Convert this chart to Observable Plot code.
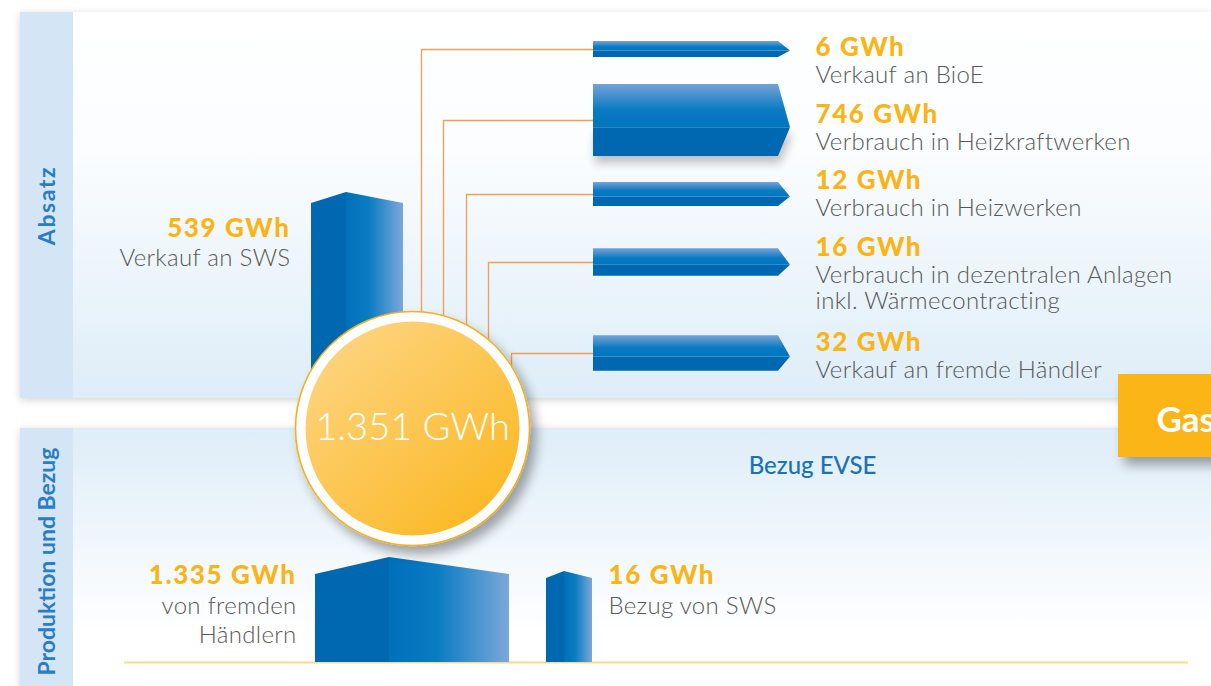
<!DOCTYPE html>
<html><head><meta charset="utf-8">
<script src="https://cdn.jsdelivr.net/npm/d3@7"></script>
<script src="https://cdn.jsdelivr.net/npm/@observablehq/plot@0.6"></script>
<style>
html,body{margin:0;padding:0;background:#fff;}
#chart{width:1211px;height:686px;overflow:hidden;}
</style></head><body><div id="chart"></div>
<script>
// ---------------- data ----------------
const totalValue = 1351;
const unit = "GWh";
const salesLabels = ["Verkauf an BioE", "Verbrauch in Heizkraftwerken", "Verbrauch in Heizwerken", "Verbrauch in dezentralen Anlagen\ninkl. Wärmecontracting", "Verkauf an fremde Händler"];
const salesValues = [6, 746, 12, 16, 32];
const swsSaleLabel = "Verkauf an SWS";
const swsSaleValue = 539;
const supplyLabels = ["von fremden\nHändlern", "Bezug von SWS"];
const supplyValues = [1335, 16];
const panelTitles = ["Absatz", "Produktion und Bezug"];
const supplySubtitle = "Bezug EVSE";
const tabLabel = "Gas";

// ---------------- layout & style ----------------
const L = {
  W: 1211, H: 686,
  top: {x1: 20, x2: 1211, y1: 12, y2: 398},
  bot: {x1: 20, x2: 1211, y1: 428, y2: 700},
  stripX2: 73, titleX: 47, titleY: [205, 561], titleSpacing: ["1.6px", "0px"],
  circle: {x: 412, y: 428, r: 117, rInner: 107},
  arrowX0: 593, arrowBody: 778, arrowTip: 790, tipFrac: 0.6,
  thickRange: [16, 72],
  rowY: [49, 120, 194, 262, 353],
  connectorX: [421, 443, 466, 488, 511],
  labelX: 815, valueBase: [55, 122, 188, 255, 350], descGap: 27,
  swsCol: {x0: 311, xp: 346, x1: 403, side: 203, peak: 192, base: 398},
  supplyCols: [{x0: 315, xp: 389, x1: 509, side: 574, peak: 557}, {x0: 546, xp: 564, x1: 592, side: 578, peak: 571}],
  supplyBase: 662,
  baseline: {x1: 124, x2: 1188, y: 662},
  swsLabel: {x: 290, y: 236},
  supplyLabelLeft: {x: 296, y: 583},
  supplyLabelRight: {x: 608, y: 583},
  evse: {x: 812, y: 473},
  tab: {x1: 1118, x2: 1240, y1: 374, y2: 457, tx: 1156, ty: 431}
};
const C = {
  orange: "#f9b417", gray: "#585858", blueTitle: "#2a7dc3", strip: "#d4e6f5",
  front: "#0067b1", connector: "#f29d55", baseline: "#fdd98a", evse: "#1a72b8"
};
const FONT = "Lato, 'Open Sans', sans-serif";
const VAL = {fontSize: 26, fontWeight: 900, fill: C.orange, fontFamily: FONT, lineAnchor: "bottom", ariaDescription: "val"};
const DESC = {fontSize: 24, fontWeight: 300, fill: C.gray, fontFamily: FONT, lineAnchor: "bottom", ariaDescription: "desc"};
const fmt = d3.formatLocale({decimal: ",", thousands: ".", grouping: [3], currency: ["", " €"]}).format(",d");
const gwh = v => `${fmt(v)} ${unit}`;

// ---------------- derived geometry ----------------
const thick = d3.scaleLog().domain(d3.extent(salesValues)).range(L.thickRange);
const rows = salesValues.map((v, i) => {
  const h = thick(v), cy = L.rowY[i];
  const top = cy - h / 2, bot = cy + h / 2, tip = top + L.tipFrac * h;
  return {i, v, label: salesLabels[i], top, bot, tip, cy};
});
// arrows drawn as vertical areas along x: upper (lit) face and lower (front) face
const arrowTop = rows.flatMap(a => [
  {id: a.i, x: L.arrowX0, y1: a.tip, y2: a.top},
  {id: a.i, x: L.arrowBody, y1: a.tip, y2: a.top},
  {id: a.i, x: L.arrowTip, y1: a.tip, y2: a.tip}
]);
const arrowFront = rows.flatMap(a => [
  {id: a.i, x: L.arrowX0, y1: a.bot, y2: a.tip},
  {id: a.i, x: L.arrowBody, y1: a.bot, y2: a.tip},
  {id: a.i, x: L.arrowTip, y1: a.tip, y2: a.tip}
]);
const connectors = rows.flatMap(a => [[L.connectorX[a.i], L.circle.y], [L.connectorX[a.i], a.cy], [L.arrowX0, a.cy]].map(([x, y]) => ({id: a.i, x, y})));

const cols = [
  {id: "sws", value: swsSaleValue, ...L.swsCol},
  ...supplyValues.map((v, i) => ({id: "sup" + i, value: v, ...L.supplyCols[i], base: L.supplyBase}))
];
const colLeft = cols.flatMap(c => [{id: c.id, x: c.x0, y1: c.base, y2: c.side}, {id: c.id, x: c.xp, y1: c.base, y2: c.peak}]);
const colRight = cols.flatMap(c => [{id: c.id, x: c.xp, y1: c.base, y2: c.peak}, {id: c.id, x: c.x1, y1: c.base, y2: c.side}]);

const valueLabels = rows.map(r => ({x: L.labelX, y: L.valueBase[r.i], text: gwh(r.v)}));
const descLabels = rows.map(r => {
  const n = r.label.split("\n").length;
  return {x: L.labelX, y: L.valueBase[r.i] + L.descGap + (n - 1) * 26, text: r.label};
});

const chart = Plot.plot({
  width: L.W, height: L.H, margin: 0,
  x: {domain: [0, L.W], axis: null},
  y: {domain: [L.H, 0], axis: null},
  style: {fontFamily: FONT, background: "#fff", overflow: "hidden"},
  marks: [
    // panels
    Plot.rect([L.top], {x1: "x1", x2: "x2", y1: "y1", y2: "y2", fill: "url(#gTop)", ariaDescription: "panel"}),
    Plot.rect([L.bot], {x1: "x1", x2: "x2", y1: "y1", y2: "y2", fill: "url(#gBot)", ariaDescription: "panel"}),
    Plot.rect([L.top, L.bot], {x1: "x1", x2: () => L.stripX2, y1: "y1", y2: "y2", fill: C.strip}),
    Plot.text(panelTitles, {x: () => L.titleX, y: (d, i) => L.titleY[i], text: d => d, rotate: -90, fontSize: 23, fontWeight: 700, fill: C.blueTitle, fontFamily: FONT, ariaDescription: "title"}),
    // baseline
    Plot.ruleY([L.baseline.y], {x1: L.baseline.x1, x2: L.baseline.x2, stroke: C.baseline, strokeWidth: 2}),
    // connectors
    Plot.line(connectors, {x: "x", y: "y", z: "id", stroke: C.connector, strokeWidth: 1.3, curve: "linear"}),
    // columns
    Plot.area(colLeft, {x1: "x", y1: "y1", y2: "y2", z: "id", fill: C.front, curve: "linear"}),
    Plot.area(colRight, {x1: "x", y1: "y1", y2: "y2", z: "id", fill: "url(#gColRight)", curve: "linear"}),
    // arrows
    Plot.area(arrowFront, {x1: "x", y1: "y1", y2: "y2", z: "id", fill: C.front, curve: "linear", ariaDescription: "arrow"}),
    Plot.area(arrowTop, {x1: "x", y1: "y1", y2: "y2", z: "id", fill: "url(#gArrowTop)", curve: "linear"}),
    // labels right
    Plot.text(valueLabels, {x: "x", y: "y", text: "text", textAnchor: "start", ...VAL}),
    Plot.text(descLabels, {x: "x", y: "y", text: "text", textAnchor: "start", lineHeight: 26 / 24, ...DESC}),
    // label SWS sale
    Plot.text([swsSaleValue], {x: () => L.swsLabel.x, y: () => L.swsLabel.y, text: d => gwh(d), textAnchor: "end", ...VAL}),
    Plot.text([swsSaleLabel], {x: () => L.swsLabel.x, y: () => L.swsLabel.y + 29, text: d => d, textAnchor: "end", ...DESC}),
    // supply labels
    Plot.text([supplyValues[0]], {x: () => L.supplyLabelLeft.x, y: () => L.supplyLabelLeft.y, text: d => gwh(d), textAnchor: "end", ...VAL}),
    Plot.text([supplyLabels[0]], {x: () => L.supplyLabelLeft.x, y: d => L.supplyLabelLeft.y + 30 + (d.split("\n").length - 1) * 29, text: d => d, textAnchor: "end", lineHeight: 29 / 24, ...DESC}),
    Plot.text([supplyValues[1]], {x: () => L.supplyLabelRight.x, y: () => L.supplyLabelRight.y, text: d => gwh(d), textAnchor: "start", ...VAL}),
    Plot.text([supplyLabels[1]], {x: () => L.supplyLabelRight.x, y: d => L.supplyLabelRight.y + 30 + (d.split("\n").length - 1) * 29, text: d => d, textAnchor: "start", lineHeight: 29 / 24, ...DESC}),
    Plot.text([supplySubtitle], {x: () => L.evse.x, y: () => L.evse.y, text: d => d, textAnchor: "middle", lineAnchor: "bottom", fontSize: 24, fontWeight: 500, fill: C.evse, fontFamily: FONT}),
    // circle
    Plot.dot([L.circle], {x: "x", y: "y", r: L.circle.r, fill: "#fff", stroke: "#f5b01c", strokeWidth: 1.6, ariaDescription: "circle"}),
    Plot.dot([L.circle], {x: "x", y: "y", r: L.circle.rInner, fill: "url(#gCircle)"}),
    Plot.text([totalValue], {x: () => L.circle.x, y: () => L.circle.y + 11, text: d => gwh(d), textAnchor: "middle", lineAnchor: "bottom", fontSize: 38, fontWeight: 300, fill: "#fff", fontFamily: FONT}),
    // tab
    Plot.rect([L.tab], {x1: "x1", x2: "x2", y1: "y1", y2: "y2", fill: "#fbb519", ariaDescription: "tab"}),
    Plot.text([tabLabel], {x: () => L.tab.tx, y: () => L.tab.ty, text: d => d, textAnchor: "start", lineAnchor: "bottom", fontSize: 35, fontWeight: 700, fill: "#fff", fontFamily: FONT})
  ]
});

chart.insertAdjacentHTML("afterbegin", `<defs>
  <linearGradient id="gTop" x1="0" y1="0" x2="0" y2="1"><stop offset="0" stop-color="#ffffff"/><stop offset="0.35" stop-color="#fbfdfe"/><stop offset="1" stop-color="#deedf8"/></linearGradient>
  <linearGradient id="gBot" x1="0" y1="0" x2="0" y2="1"><stop offset="0" stop-color="#deedf8"/><stop offset="0.75" stop-color="#ffffff"/><stop offset="1" stop-color="#ffffff"/></linearGradient>
  <linearGradient id="gColRight" x1="0" y1="0" x2="1" y2="0"><stop offset="0" stop-color="#0070ba"/><stop offset="0.4" stop-color="#0a7cc2"/><stop offset="1" stop-color="#7ca7da"/></linearGradient>
  <linearGradient id="gArrowTop" x1="0" y1="0" x2="0" y2="1"><stop offset="0" stop-color="#74a3d8"/><stop offset="0.6" stop-color="#0a7ac2"/><stop offset="1" stop-color="#0075bf"/></linearGradient>
  <linearGradient id="gCircle" x1="0.15" y1="0.1" x2="0.85" y2="0.9"><stop offset="0" stop-color="#fdd37c"/><stop offset="1" stop-color="#fbb927"/></linearGradient>
  <filter id="fPanel" x="-5%" y="-10%" width="110%" height="120%"><feGaussianBlur in="SourceAlpha" stdDeviation="4"/><feOffset dx="0" dy="2"/><feComponentTransfer><feFuncA type="linear" slope="0.18"/></feComponentTransfer><feMerge><feMergeNode/><feMergeNode in="SourceGraphic"/></feMerge></filter>
  <filter id="fShadow" x="-30%" y="-30%" width="170%" height="190%"><feGaussianBlur in="SourceAlpha" stdDeviation="6"/><feOffset dx="6" dy="8"/><feComponentTransfer><feFuncA type="linear" slope="0.35"/></feComponentTransfer><feMerge><feMergeNode/><feMergeNode in="SourceGraphic"/></feMerge></filter>
  <filter id="fArrow" x="-10%" y="-50%" width="120%" height="250%"><feGaussianBlur in="SourceAlpha" stdDeviation="5"/><feOffset dx="2" dy="7"/><feComponentTransfer><feFuncA type="linear" slope="0.25"/></feComponentTransfer><feMerge><feMergeNode/><feMergeNode in="SourceGraphic"/></feMerge></filter>
</defs>`);
const s = d3.select(chart);
s.selectAll('g[aria-description="panel"]').attr("filter", "url(#fPanel)");
s.selectAll('g[aria-description="circle"]').attr("filter", "url(#fShadow)");
s.selectAll('g[aria-description="tab"]').attr("filter", "url(#fShadow)");
s.selectAll('g[aria-description="arrow"] path').filter((d, i) => i === 1).attr("filter", "url(#fArrow)");
s.selectAll('g[aria-description="val"] text').style("letter-spacing", "1.6px");
s.selectAll('g[aria-description="desc"] text').style("letter-spacing", "0.3px");
s.selectAll('g[aria-description="title"] text').each(function(d, i) { this.style.letterSpacing = L.titleSpacing[i] || "0px"; });
document.getElementById("chart").appendChild(chart);
</script></body></html>
